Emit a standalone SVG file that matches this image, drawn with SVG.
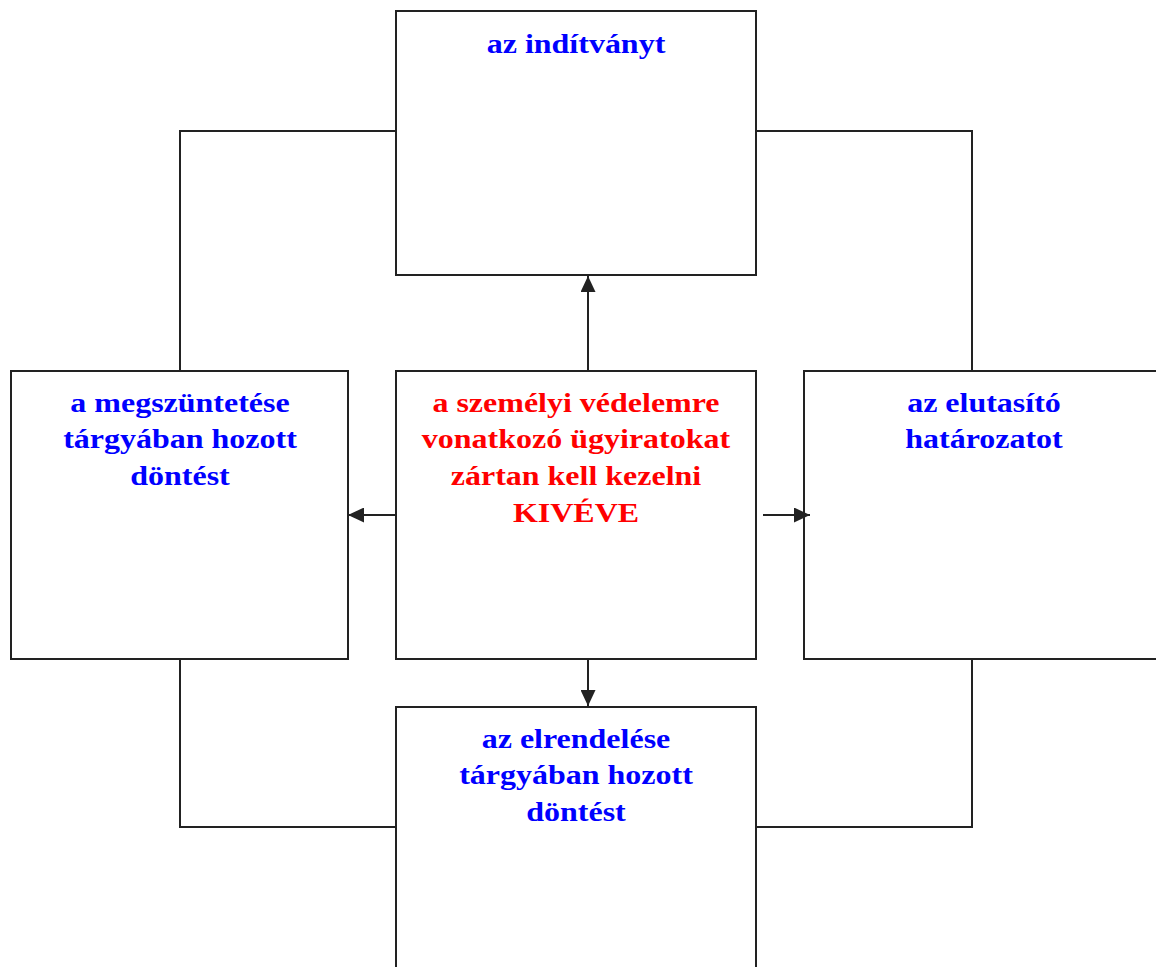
<svg xmlns="http://www.w3.org/2000/svg" width="1156" height="967" viewBox="0 0 1156 967">
<defs>
<style>
.box{fill:#fff;stroke:#222;stroke-width:2}
.ln{fill:none;stroke:#222;stroke-width:2}
.t{font-family:"Liberation Serif",serif;font-weight:bold;font-size:27px;text-anchor:middle}
.b{fill:#0000ff}
.r{fill:#ff0000}
</style>
<marker id="a" viewBox="0 0 16 15" refX="16" refY="7.5" markerWidth="16" markerHeight="15" markerUnits="userSpaceOnUse" orient="auto">
<path d="M0,0 L16,7.5 L0,15 z" fill="#222"/>
</marker>
</defs>
<g id="connectors">
<polyline class="ln" points="396,131 180,131 180,371"/>
<polyline class="ln" points="756,131 972,131 972,371"/>
<polyline class="ln" points="180,659 180,827 396,827"/>
<polyline class="ln" points="972,659 972,827 756,827"/>
</g>
<g id="top"><rect class="box" x="396" y="11" width="360" height="264"/>
<text class="t b" transform="translate(576,52.5) scale(1.185,1)">az indítványt</text></g>
<g id="left"><rect class="box" x="11" y="371" width="337" height="288"/>
<text class="t b" transform="translate(180,411.5) scale(1.185,1)">a megszüntetése</text>
<text class="t b" transform="translate(180,448) scale(1.185,1)">tárgyában hozott</text>
<text class="t b" transform="translate(180,484.5) scale(1.185,1)">döntést</text></g>
<g id="center"><rect class="box" x="396" y="371" width="360" height="288"/>
<text class="t r" transform="translate(576,411.5) scale(1.185,1)">a személyi védelemre</text>
<text class="t r" transform="translate(576,448) scale(1.185,1)">vonatkozó ügyiratokat</text>
<text class="t r" transform="translate(576,484.5) scale(1.185,1)">zártan kell kezelni</text>
<text class="t r" transform="translate(576,521.5) scale(1.185,1)">KIVÉVE</text></g>
<g id="right"><rect class="box" x="804" y="371" width="370" height="288"/>
<text class="t b" transform="translate(984,411.5) scale(1.185,1)">az elutasító</text>
<text class="t b" transform="translate(984,448) scale(1.185,1)">határozatot</text></g>
<g id="bottom"><rect class="box" x="396" y="707" width="360" height="280"/>
<text class="t b" transform="translate(576,747.5) scale(1.185,1)">az elrendelése</text>
<text class="t b" transform="translate(576,784) scale(1.185,1)">tárgyában hozott</text>
<text class="t b" transform="translate(576,820.5) scale(1.185,1)">döntést</text></g>
<g id="arrows">
<line class="ln" x1="588" y1="371" x2="588" y2="276" marker-end="url(#a)"/>
<line class="ln" x1="396" y1="515" x2="348" y2="515" marker-end="url(#a)"/>
<line class="ln" x1="763" y1="515" x2="810" y2="515" marker-end="url(#a)"/>
<line class="ln" x1="588" y1="659" x2="588" y2="706" marker-end="url(#a)"/>
</g>
</svg>
